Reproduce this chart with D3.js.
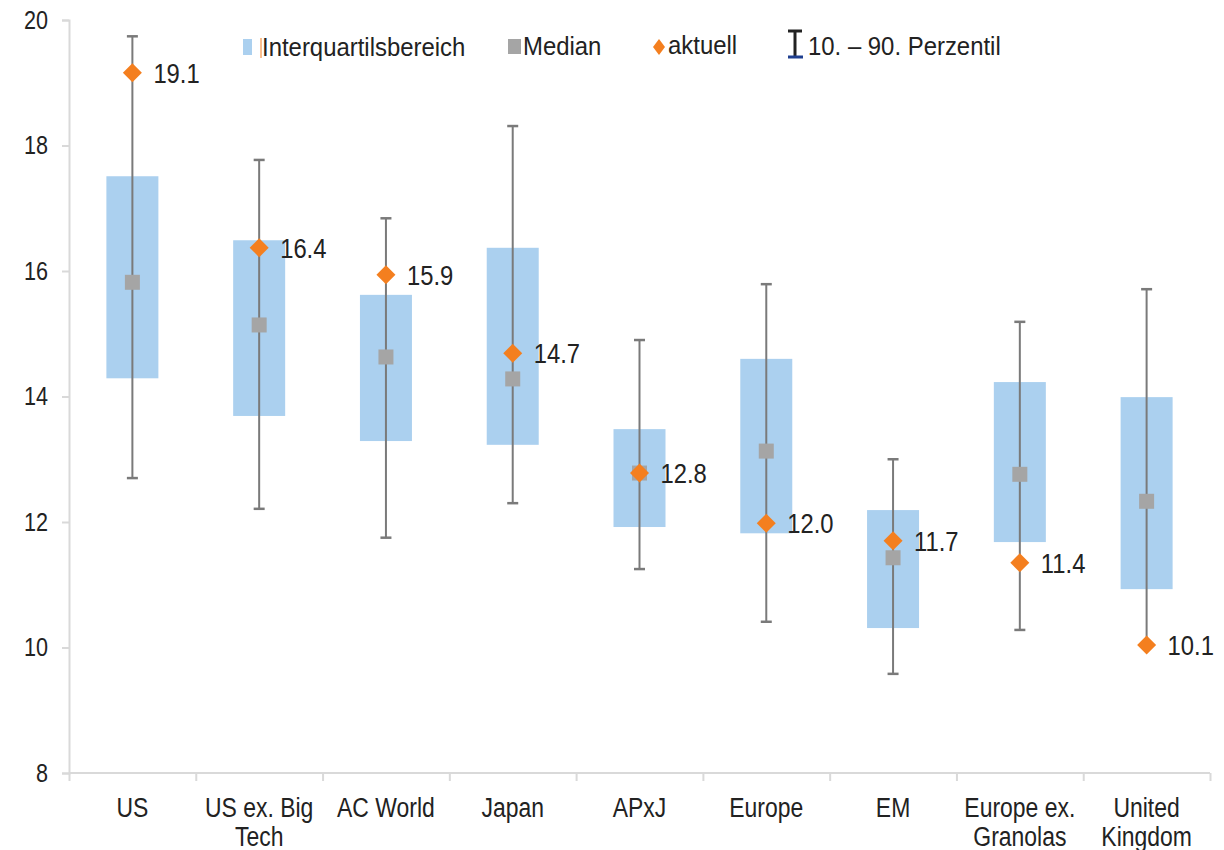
<!DOCTYPE html>
<html>
<head>
<meta charset="utf-8">
<script src="https://cdn.jsdelivr.net/npm/d3@7"></script>
<style>
  body { margin: 0; background: #fff; }
  svg text { font-family: "Liberation Sans", Arial, sans-serif; fill: #222; }
</style>
</head>
<body>
<svg id="chart" width="1224" height="850"></svg>
<script>
// Daten
const categories = ["US", "US ex. Big\nTech", "AC World", "Japan", "APxJ", "Europe", "EM", "Europe ex.\nGranolas", "United\nKingdom"];
const p10    = [12.70, 12.21, 11.75, 12.30, 11.25, 10.41, 9.58, 10.28, 10.04];
const p90    = [19.74, 17.77, 16.84, 18.31, 14.90, 15.79, 13.00, 15.19, 15.71];
const q1     = [14.29, 13.69, 13.29, 13.23, 11.92, 11.82, 10.31, 11.68, 10.93];
const q3     = [17.51, 16.49, 15.62, 16.37, 13.48, 14.60, 12.19, 14.23, 13.99];
const median = [15.82, 15.14, 14.63, 14.28, 12.78, 13.13, 11.43, 12.76, 12.33];
const current = [19.16, 16.37, 15.94, 14.69, 12.78, 11.98, 11.70, 11.35, 10.04];
const currentLabels = ["19.1", "16.4", "15.9", "14.7", "12.8", "12.0", "11.7", "11.4", "10.1"];
const yTicks = [8, 10, 12, 14, 16, 18, 20];

const svg = d3.select("#chart");
const plotLeft = 69, plotRight = 1210, plotTop = 20, plotBottom = 773;

// Schrift im Original ist schmal gestaucht
const squeeze = 0.85;

const x = d3.scaleBand().domain(categories).range([plotLeft, plotRight]).padding(0);
const y = d3.scaleLinear().domain([8, 20]).range([plotBottom, plotTop]);
const cx = d => x(d) + x.bandwidth() / 2;

const axisColor = "#d9d9d9";

// y-Achse
const gY = svg.append("g").attr("transform", `translate(${plotLeft},0)`)
    .call(d3.axisLeft(y).tickValues(yTicks).tickSize(7).tickPadding(14).tickFormat(d3.format("d")));
gY.attr("font-family", null);
gY.select(".domain").attr("stroke", axisColor).attr("stroke-width", 2);
gY.selectAll(".tick line").attr("stroke", axisColor).attr("stroke-width", 2);
gY.selectAll(".tick text")
    .attr("font-size", 26)
    .attr("x", 0)
    .attr("transform", `translate(-21,0) scale(0.83,1)`);

// x-Achse: Striche an den Kategoriegrenzen
const xb = d3.scaleLinear().domain([0, categories.length]).range([plotLeft, plotRight]);
const gX = svg.append("g").attr("transform", `translate(0,${plotBottom})`)
    .call(d3.axisBottom(xb).ticks(categories.length).tickSize(8).tickFormat(""));
gX.select(".domain").attr("stroke", axisColor).attr("stroke-width", 2).attr("d", `M${plotLeft},0H${plotRight}`);
gX.selectAll(".tick line").attr("stroke", axisColor).attr("stroke-width", 2);

// Kategoriebeschriftung
svg.append("g").selectAll("text")
    .data(categories)
    .enter().append("text")
    .attr("transform", d => `translate(${cx(d)},817) scale(${squeeze},1)`)
    .attr("text-anchor", "middle")
    .attr("font-size", 27)
    .each(function(d) {
        d.split("\n").forEach((l, i) => {
            d3.select(this).append("tspan")
                .attr("x", 0)
                .attr("dy", i === 0 ? 0 : 29)
                .text(l);
        });
    });

const data = categories.map((c, i) => ({
    c, p10: p10[i], p90: p90[i], q1: q1[i], q3: q3[i],
    med: median[i], cur: current[i], label: currentLabels[i]
}));

const boxW = 52, capW = 11;
const g = svg.append("g");

// Interquartilsbereich
g.selectAll("rect.iqr").data(data).enter().append("rect")
    .attr("class", "iqr")
    .attr("x", d => cx(d.c) - boxW / 2)
    .attr("width", boxW)
    .attr("y", d => y(d.q3))
    .attr("height", d => y(d.q1) - y(d.q3))
    .attr("fill", "#abd0ef");

// 10.–90. Perzentil
g.selectAll("line.whisker").data(data).enter().append("line")
    .attr("class", "whisker")
    .attr("x1", d => cx(d.c)).attr("x2", d => cx(d.c))
    .attr("y1", d => y(d.p90)).attr("y2", d => y(d.p10))
    .attr("stroke", "#7a7a7a").attr("stroke-width", 2);

["p90", "p10"].forEach(k => {
    g.selectAll("line.cap-" + k).data(data).enter().append("line")
        .attr("class", "cap-" + k)
        .attr("x1", d => cx(d.c) - capW / 2).attr("x2", d => cx(d.c) + capW / 2)
        .attr("y1", d => y(d[k])).attr("y2", d => y(d[k]))
        .attr("stroke", "#7a7a7a").attr("stroke-width", 2.5);
});

// Median
const medS = 15;
g.selectAll("rect.med").data(data).enter().append("rect")
    .attr("class", "med")
    .attr("x", d => cx(d.c) - medS / 2)
    .attr("y", d => y(d.med) - medS / 2)
    .attr("width", medS).attr("height", medS)
    .attr("fill", "#a5a5a5");

// aktuell
const dia = 9.5;
g.selectAll("path.cur").data(data).enter().append("path")
    .attr("class", "cur")
    .attr("d", d => {
        const px = cx(d.c), py = y(d.cur);
        return `M${px},${py - dia}L${px + dia},${py}L${px},${py + dia}L${px - dia},${py}Z`;
    })
    .attr("fill", "#f47f1f");

g.selectAll("text.curlabel").data(data).enter().append("text")
    .attr("class", "curlabel")
    .attr("transform", d => `translate(${cx(d.c) + 21},${y(d.cur)}) scale(${squeeze},1)`)
    .attr("dy", "0.36em")
    .attr("font-size", 28)
    .text(d => d.label);

// Legende
const lg = svg.append("g");
const legendText = (px, py, t) => lg.append("text")
    .attr("transform", `translate(${px},${py}) scale(0.92,1)`)
    .attr("font-size", 26).text(t);

lg.append("rect").attr("x", 243).attr("y", 39).attr("width", 9).attr("height", 16).attr("fill", "#abd0ef");
lg.append("line").attr("x1", 261).attr("x2", 261).attr("y1", 38).attr("y2", 58).attr("stroke", "#f47f1f").attr("stroke-width", 1);
legendText(262, 56, "Interquartilsbereich");

lg.append("rect").attr("x", 508).attr("y", 39).attr("width", 13).attr("height", 15).attr("fill", "#a5a5a5");
legendText(523, 55, "Median");

lg.append("path").attr("d", "M659,39L665,47L659,55L653,47Z").attr("fill", "#f47f1f");
legendText(668, 54, "aktuell");

lg.append("line").attr("x1", 795).attr("x2", 795).attr("y1", 31).attr("y2", 56).attr("stroke", "#222").attr("stroke-width", 3);
lg.append("line").attr("x1", 788).attr("x2", 802).attr("y1", 31).attr("y2", 31).attr("stroke", "#222").attr("stroke-width", 3);
lg.append("line").attr("x1", 788).attr("x2", 803).attr("y1", 57).attr("y2", 57).attr("stroke", "#1f3f8f").attr("stroke-width", 3);
legendText(808, 55, "10. – 90. Perzentil");
</script>
</body>
</html>
